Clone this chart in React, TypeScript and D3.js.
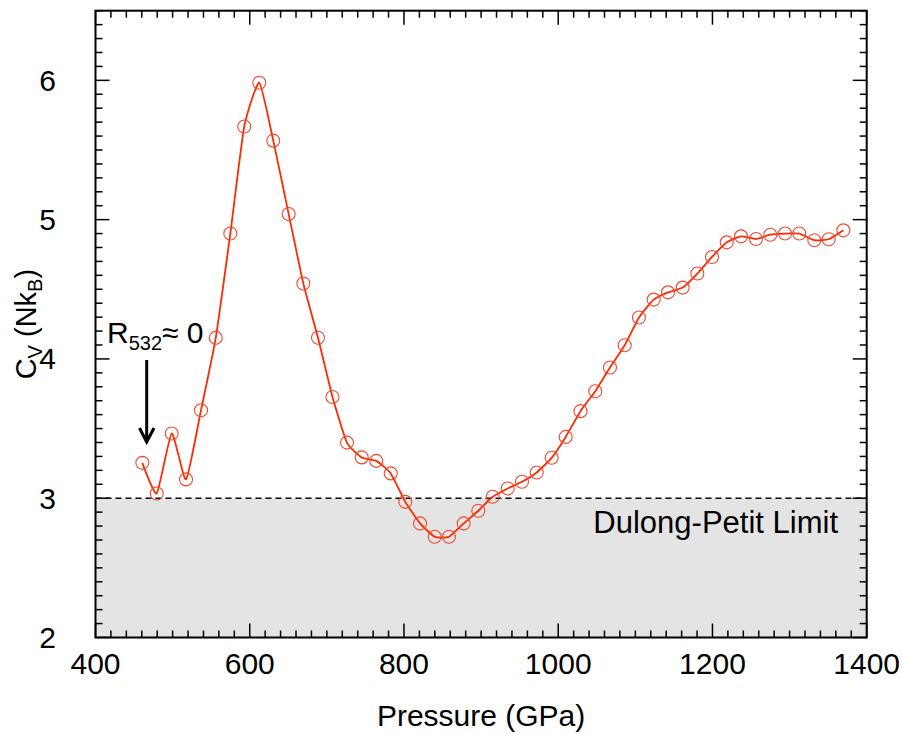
import React from "react";
import * as d3 from "d3";

const pressure = [
  460.7, 479.4, 498.8, 517.4, 536.8, 555.9, 574.8, 592.9, 612.4, 630.5,
  650.5, 669.5, 688.5, 707.3, 726.1, 745.2, 764.1, 782.8, 801.7, 820.8,
  839.8, 858.4, 877.4, 896.4, 915.0, 934.5, 953.0, 972.1, 991.5, 1009.7,
  1028.9, 1048.0, 1067.1, 1086.2, 1104.7, 1123.8, 1142.4, 1161.4, 1180.4, 1199.4,
  1218.5, 1237.0, 1256.5, 1275.0, 1294.1, 1312.6, 1332.1, 1350.7, 1369.7,
];
const cv = [
  3.254, 3.034, 3.465, 3.135, 3.632, 4.151, 4.9, 5.669, 5.983, 5.567,
  5.04, 4.541, 4.152, 3.727, 3.399, 3.293, 3.268, 3.178, 2.974, 2.819,
  2.723, 2.723, 2.819, 2.91, 3.01, 3.07, 3.118, 3.185, 3.29, 3.44,
  3.625, 3.768, 3.938, 4.098, 4.297, 4.426, 4.478, 4.512, 4.613, 4.732,
  4.837, 4.88, 4.861, 4.892, 4.9, 4.9, 4.852, 4.859, 4.923,
];
const xTicks = [400, 600, 800, 1000, 1200, 1400];
const yTicks = [2, 3, 4, 5, 6];
const xDomain = [400, 1400];
const yDomain = [2, 6.5];
const dulongPetit = 3;

const L = 95.5, R = 866.7, T = 10.7, B = 637.5;
const FONT = "'Liberation Sans', Arial, Helvetica, sans-serif";

export default function App() {
  const x = d3.scaleLinear().domain(xDomain).range([L, R]);
  const y = d3.scaleLinear().domain(yDomain).range([B, T]);
  const pts = pressure.map((p, i) => [p, cv[i]] as [number, number]);
  const line = d3
    .line<[number, number]>()
    .x((d) => x(d[0]))
    .y((d) => y(d[1]))
    .curve(d3.curveCardinal.tension(0.5));

  const xMinor = d3.range(400, 1400.01, 20);
  const yMinor = d3.range(2, 6.501, 0.1);
  const isMajorX = (v: number) => Math.abs(v / 200 - Math.round(v / 200)) < 1e-6;
  const isMajorY = (v: number) => Math.abs(v - Math.round(v)) < 1e-6;

  return (
    <svg width={902} height={734} style={{ position: "absolute", left: 0, top: 0, background: "#fff" }} fontFamily={FONT}>
      <rect x={0} y={0} width={902} height={734} fill="#fff" />
      <rect x={L} y={y(dulongPetit)} width={R - L} height={y(2) - y(dulongPetit)} fill="#e4e4e4" />
      <line x1={L} x2={R} y1={y(dulongPetit)} y2={y(dulongPetit)} stroke="#000" strokeWidth={1.5} strokeDasharray="6,4" />

      {xMinor.map((v, i) => {
        const len = isMajorX(v) ? 14 : 7;
        return (
          <g key={"xt" + i}>
            <line x1={x(v)} x2={x(v)} y1={B} y2={B - len} stroke="#000" strokeWidth={1.5} />
            <line x1={x(v)} x2={x(v)} y1={T} y2={T + len} stroke="#000" strokeWidth={1.5} />
          </g>
        );
      })}
      {yMinor.map((v, i) => {
        const len = isMajorY(v) ? 14 : 7;
        return (
          <g key={"yt" + i}>
            <line x1={L} x2={L + len} y1={y(v)} y2={y(v)} stroke="#000" strokeWidth={1.5} />
            <line x1={R} x2={R - len} y1={y(v)} y2={y(v)} stroke="#000" strokeWidth={1.5} />
          </g>
        );
      })}
      <rect x={L} y={T} width={R - L} height={B - T} fill="none" stroke="#000" strokeWidth={2} />

      {xTicks.map((v) => (
        <text key={"xl" + v} x={x(v)} y={674} fontSize={30} textAnchor="middle" fill="#000">
          {v}
        </text>
      ))}
      {yTicks.map((v) => (
        <text key={"yl" + v} x={56} y={y(v) + 10.5} fontSize={30} textAnchor="end" fill="#000">
          {v}
        </text>
      ))}

      <text x={(L + R) / 2} y={726} fontSize={30} textAnchor="middle" fill="#000">
        Pressure (GPa)
      </text>
      <text transform={`translate(36, ${(T + B) / 2}) rotate(-90)`} fontSize={29} textAnchor="middle" fill="#000">
        C<tspan fontSize={20} dy={6}>V</tspan>
        <tspan dy={-6}> (Nk</tspan>
        <tspan fontSize={20} dy={6}>B</tspan>
        <tspan dy={-6}>)</tspan>
      </text>

      <text x={838} y={533} fontSize={31} textAnchor="end" fill="#000">
        Dulong-Petit Limit
      </text>

      <path d={line(pts) || ""} fill="none" stroke="#ff2a00" strokeWidth={1.8} />
      {pts.map((d, i) => (
        <circle key={"c" + i} cx={x(d[0])} cy={y(d[1])} r={6.5} fill="none" stroke="#f2472e" strokeWidth={1.1} />
      ))}

      <text x={107} y={343} fontSize={30} fill="#000">
        R<tspan fontSize={20} dy={7}>532</tspan>
        <tspan dy={-7}>≈ 0</tspan>
      </text>
      <line x1={146.7} x2={146.7} y1={360} y2={441} stroke="#000" strokeWidth={3} />
      <polyline points="139.5,428 146.7,442 154,428" fill="none" stroke="#000" strokeWidth={3} />
    </svg>
  );
}
